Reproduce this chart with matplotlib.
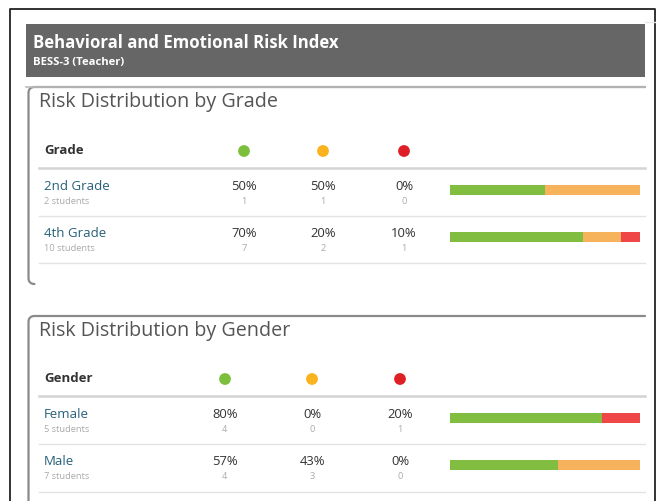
import matplotlib
matplotlib.use("Agg")
import matplotlib.pyplot as plt
from matplotlib.path import Path
from matplotlib.patches import PathPatch, Rectangle

# ---------------- data ----------------
main_title = "Behavioral and Emotional Risk Index"
sub_title = "BESS-3 (Teacher)"

grade_title = "Risk Distribution by Grade"
grade_header = "Grade"
grade_labels = ["2nd Grade", "4th Grade"]
grade_students = [2, 10]
grade_green_pct = [50, 70]
grade_orange_pct = [50, 20]
grade_red_pct = [0, 10]
grade_green_n = [1, 7]
grade_orange_n = [1, 2]
grade_red_n = [0, 1]

gender_title = "Risk Distribution by Gender"
gender_header = "Gender"
gender_labels = ["Female", "Male"]
gender_students = [5, 7]
gender_green_pct = [80, 57]
gender_orange_pct = [0, 43]
gender_red_pct = [20, 0]
gender_green_n = [4, 4]
gender_orange_n = [0, 3]
gender_red_n = [1, 0]

# ---------------- style ----------------
FONT = "Open Sans"
plt.rcParams["font.family"] = [FONT, "DejaVu Sans"]
DOT_COLORS = ["#7cbf3c", "#fbb21f", "#df1f26"]
BAR_COLORS = ["#80bd41", "#f7b35c", "#ef4747"]
LABEL_COLOR = "#25607a"

W, H = 657, 502
fig = plt.figure(figsize=(W / 100, H / 100), dpi=100)
ax = fig.add_axes([0, 0, 1, 1])
ax.set_xlim(0, W)
ax.set_ylim(H, 0)
ax.axis("off")

# outer frame
ax.plot([10, 10, 655, 655], [H + 5, 10, 10, H + 5], color="#222222", lw=1.3)
ax.plot([645, 655], [23, 23], color="#e8e8e8", lw=1)

# header bar
ax.add_patch(Rectangle((26, 25), 619, 53, facecolor="#666666", edgecolor="none"))
ax.plot([26, 645], [87.5, 87.5], color="#bbbbbb", lw=1.2)
ax.text(33, 43, main_title, color="white", fontsize=12.1, fontweight="bold",
        va="center", ha="left")
ax.text(33, 63, sub_title, color="white", fontsize=8.1, fontweight="bold",
        va="center", ha="left")


def panel_border(top, bottom):
    r = 6
    x0 = 28.5
    verts = [(645, top), (x0 + r, top), (x0, top), (x0, top + r),
             (x0, bottom - r), (x0, bottom), (x0 + r, bottom)]
    codes = [Path.MOVETO, Path.LINETO, Path.CURVE3, Path.CURVE3,
             Path.LINETO, Path.CURVE3, Path.CURVE3]
    ax.add_patch(PathPatch(Path(verts, codes), facecolor="none",
                           edgecolor="#8a8a8a", lw=1.6, capstyle="round"))


def table(title, title_y, header, header_y, col_x, labels, students,
          pcts, counts, row_ys, hline_y, sep_ys):
    ax.text(39, title_y, title, color="#555555", fontsize=14.2, va="center", ha="left")
    ax.text(44, header_y, header, color="#333333", fontsize=9.5, fontweight="bold",
            va="center", ha="left")
    ax.scatter(col_x, [header_y + 1] * 3, s=72, c=DOT_COLORS, edgecolors="none", zorder=3)
    ax.plot([39, 645], [hline_y, hline_y], color="#d4d4d4", lw=1.8)
    for y in sep_ys:
        ax.plot([39, 645], [y, y], color="#e2e2e2", lw=1)
    for i, lab in enumerate(labels):
        y = row_ys[i]
        ax.text(44, y, lab, color=LABEL_COLOR, fontsize=9.5, va="center", ha="left")
        ax.text(44, y + 15, f"{students[i]} students", color="#aaaaaa", fontsize=6.7,
                va="center", ha="left")
        for j in range(3):
            ax.text(col_x[j], y, f"{pcts[j][i]}%", color="#333333", fontsize=9.4,
                    va="center", ha="center")
            ax.text(col_x[j], y + 15, f"{counts[j][i]}", color="#aaaaaa", fontsize=6.7,
                    va="center", ha="center")
        # stacked bar in its own axes, 0..100 %
        bx0, bx1 = 450, 640
        by0, by1 = y - 1, y + 9
        bax = fig.add_axes([bx0 / W, 1 - by1 / H, (bx1 - bx0) / W, (by1 - by0) / H])
        bax.set_xlim(0, 100)
        bax.set_ylim(-0.5, 0.5)
        bax.axis("off")
        left = 0
        for j in range(3):
            v = pcts[j][i]
            if v > 0:
                bax.barh(0, v, left=left, height=1.0, color=BAR_COLORS[j], linewidth=0)
            left += v


# grade panel
panel_border(88, 285)
table(grade_title, 102, grade_header, 151, [244, 323, 404], grade_labels, grade_students,
      [grade_green_pct, grade_orange_pct, grade_red_pct],
      [grade_green_n, grade_orange_n, grade_red_n],
      [187, 234], 169, [217, 264])

# gender panel
panel_border(317, H + 20)
table(gender_title, 331, gender_header, 379, [225, 312, 400], gender_labels, gender_students,
      [gender_green_pct, gender_orange_pct, gender_red_pct],
      [gender_green_n, gender_orange_n, gender_red_n],
      [415, 462], 397, [445, 493])

fig.savefig("out.png", dpi=100)
